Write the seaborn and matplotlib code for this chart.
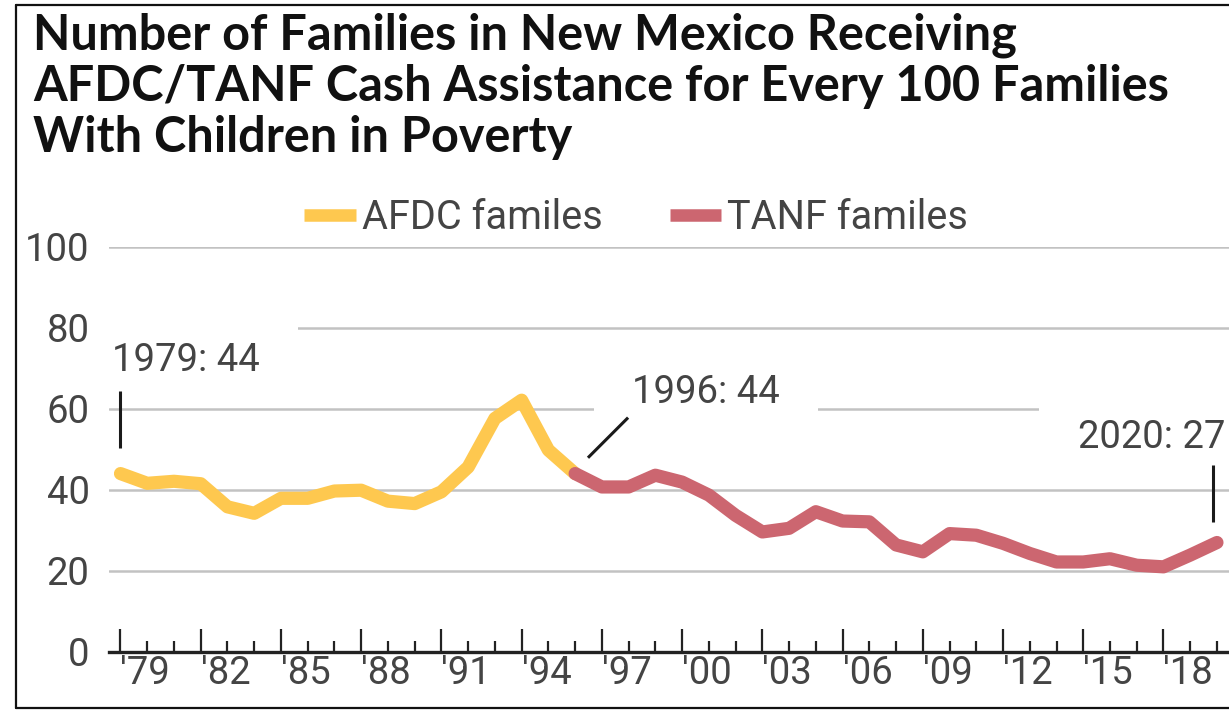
import matplotlib
matplotlib.use("Agg")
import matplotlib.pyplot as plt
from matplotlib.lines import Line2D
from matplotlib.ticker import MultipleLocator, FixedLocator
import seaborn as sns
import pandas as pd

# --- data -------------------------------------------------------------
afdc_years = list(range(1979, 1997))
afdc_values = [44, 41.6, 42.1, 41.5, 35.8, 34.2, 37.9, 37.9, 39.7, 39.9,
               37.2, 36.6, 39.5, 45.6, 57.6, 62.1, 49.8, 44]

tanf_years = list(range(1996, 2021))
tanf_values = [44, 40.7, 40.7, 43.6, 41.9, 38.7, 33.7, 29.6, 30.5, 34.6,
               32.3, 32.1, 26.4, 24.7, 29.2, 28.8, 26.8, 24.3, 22.2, 22.2,
               23.0, 21.4, 21.0, 23.9, 27]

series_names = ["AFDC familes", "TANF familes"]
series_colors = ["#FEC84F", "#CC6670"]

title_lines = ["Number of Families in New Mexico Receiving",
               "AFDC/TANF Cash Assistance for Every 100 Families",
               "With Children in Poverty"]

y_ticks = [0, 20, 40, 60, 80, 100]
x_major_ticks = list(range(1979, 2019, 3))
x_tick_labels = ["'" + str(y)[2:] for y in x_major_ticks]

# --- frame -------------------------------------------------------------
df = pd.DataFrame({
    "year": afdc_years + tanf_years,
    "value": afdc_values + tanf_values,
    "program": [series_names[0]] * len(afdc_years) + [series_names[1]] * len(tanf_years),
})

sns.set_theme(style="white")
plt.rcParams["font.family"] = ["Roboto", "DejaVu Sans"]

W, H = 1229, 712
fig = plt.figure(figsize=(W / 100, H / 100), dpi=100)
ax = fig.add_axes([109 / W, 1 - 652 / H, 1 - 109 / W, (652 - 246.5) / H])

sns.lineplot(data=df, x="year", y="value", hue="program",
             palette=dict(zip(series_names, series_colors)),
             linewidth=9.5, ax=ax, legend=True, zorder=4,
             solid_capstyle="round", solid_joinstyle="round")

ax.set_xlim(1978.57, 2020.45)
ax.set_ylim(0, 100)
ax.set_xlabel("")
ax.set_ylabel("")

# grid and axis
ax.set_yticks(y_ticks)
ax.yaxis.grid(True, color="#c2c2c2", linewidth=1.8, zorder=0)
ax.xaxis.grid(False)
ax.set_axisbelow(True)
for side in ["top", "right", "left"]:
    ax.spines[side].set_visible(False)
ax.spines["bottom"].set_color("#222222")
ax.spines["bottom"].set_linewidth(2.4)
ax.spines["bottom"].set_zorder(5)

label_color = "#444444"
label_size = 27.5
ax.tick_params(axis="y", left=False, length=0, pad=14, labelsize=label_size,
               labelcolor=label_color)
ax.xaxis.set_major_locator(FixedLocator(x_major_ticks))
ax.xaxis.set_minor_locator(MultipleLocator(1))
ax.set_xticklabels(x_tick_labels)
ax.tick_params(axis="x", which="both", bottom=True, direction="in", width=1.6,
               color="#222222")
ax.tick_params(axis="x", which="major", length=16.5, pad=2,
               labelsize=label_size, labelcolor=label_color)
ax.tick_params(axis="x", which="minor", length=8)
for lab in ax.get_xticklabels():
    lab.set_horizontalalignment("left")

# legend above the plot
handles, labels = ax.get_legend_handles_labels()
leg = ax.legend(handles, labels, loc="center", ncol=2, frameon=False,
                bbox_to_anchor=(0.5175, 1 - 217 / H), bbox_transform=fig.transFigure,
                fontsize=28.5, handlelength=1.3, handletextpad=0.15,
                columnspacing=1.7, labelcolor=label_color)
for line in leg.get_lines():
    line.set_linewidth(9)
    line.set_solid_capstyle("butt")

# callouts
values_by_year = dict(zip(df["year"], df["value"]))
box = dict(boxstyle="square,pad=1.0", facecolor="white", edgecolor="none",
           mutation_aspect=0.45)
lead = dict(color="#1a1a1a", linewidth=2.2, solid_capstyle="butt", zorder=6)
note = dict(fontsize=label_size, color=label_color, bbox=box, zorder=5,
            clip_on=True, va="center")

v = values_by_year[1979]
ax.plot([1979, 1979], [v + 6.2, v + 20.3], **lead)
ax.text(1978.68, v + 27.9, f"1979: {v:g}", ha="left", **note)

v = 44
ax.plot([1996.48, 1997.98], [v + 3.9, v + 13.8], **lead)
ax.text(1998.14, v + 20.0, f"1996: {v:g}", ha="left", **note)

v = values_by_year[2020]
ax.plot([2019.86, 2019.86], [v + 5.0, v + 19.0], **lead)
ax.text(2020.3, v + 26.0, f"2020: {v:g}", ha="right", **note)

# title
fig.text(33 / W, 1 - 12 / H, "\n".join(title_lines), ha="left", va="top",
         fontsize=35, fontweight="bold", family=["Lato", "DejaVu Sans"],
         color="#111111", linespacing=1.17)

# outer frame lines
frame = dict(color="#111111", linewidth=1.6, transform=fig.transFigure)
fig.add_artist(Line2D([16 / W, 16 / W], [1 - 5 / H, 1 - 708 / H], **frame))
fig.add_artist(Line2D([16 / W, 1], [1 - 5 / H, 1 - 5 / H], **frame))
fig.add_artist(Line2D([16 / W, 1], [1 - 708 / H, 1 - 708 / H], **frame))

fig.savefig("out.png", dpi=100)
